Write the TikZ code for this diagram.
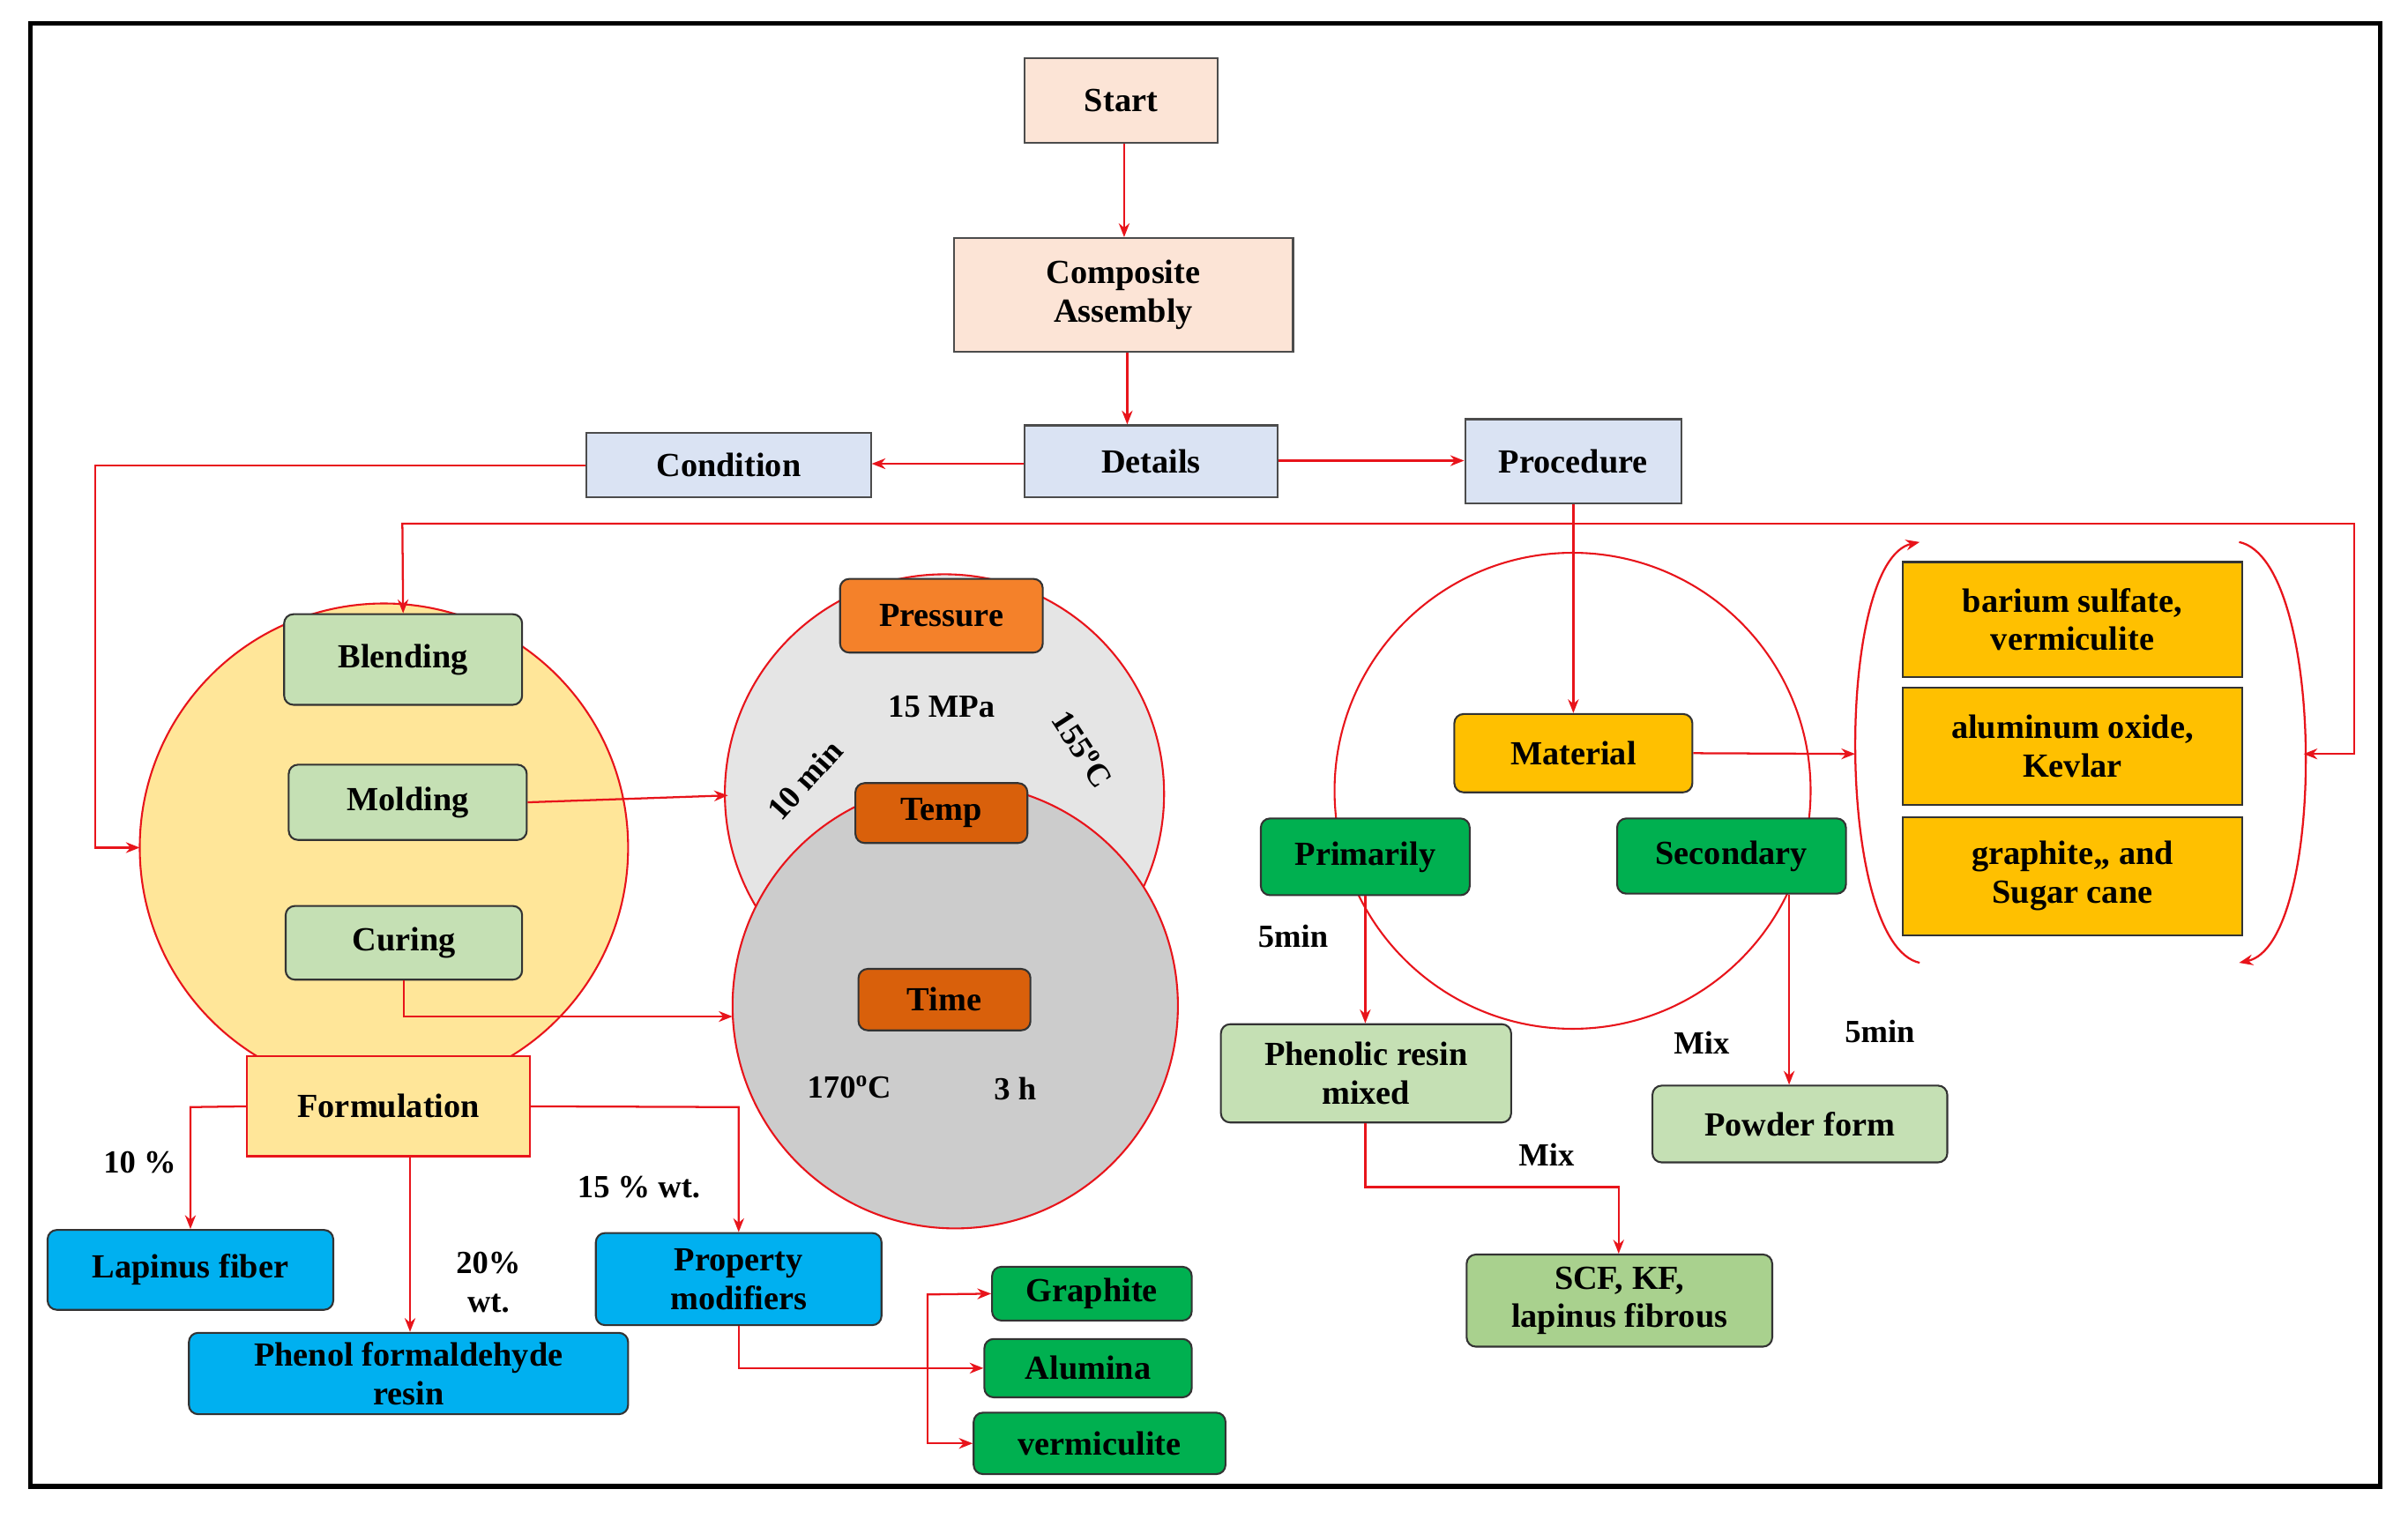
\documentclass[tikz,border=0pt]{standalone}
\usepackage{fontspec}
\setmainfont{Liberation Serif}
\usetikzlibrary{arrows.meta}
\definecolor{peach}{HTML}{FCE4D6}
\definecolor{lblue}{HTML}{DAE3F3}
\definecolor{lgreen}{HTML}{C5E0B4}
\definecolor{mgreen}{HTML}{A9D18E}
\definecolor{dgreen}{HTML}{00B050}
\definecolor{cyanb}{HTML}{00B0F0}
\definecolor{gold}{HTML}{FFC000}
\definecolor{lyel}{HTML}{FFE699}
\definecolor{orA}{HTML}{F4812A}
\definecolor{orB}{HTML}{D9600B}
\definecolor{redl}{HTML}{E8141B}
\begin{document}
\begin{tikzpicture}[x=1pt,y=-1pt,
 every node/.style={font=\fontsize{22}{25}\selectfont\bfseries, align=center},
 sq/.style={draw=black!70, line width=1.2pt, inner sep=0pt},
 rd/.style={draw=black!80, line width=1.2pt, rounded corners=6pt, inner sep=0pt},
 ar/.style={draw=redl, line width=1.3pt, -{Stealth[length=9pt,width=7pt]}},
 ln/.style={draw=redl, line width=1.3pt},
 lab/.style={font=\fontsize{21}{25}\selectfont\bfseries}]
\useasboundingbox (0,0) rectangle (1568,989);
\fill[white] (0,0) rectangle (1568,989);
\draw[line width=3pt] (20,15) rectangle (1550,968);
\newcommand\bx[6]{\node[#1, fill=#2, minimum width=#5-#3, minimum height=#6-#4] at ({(#3+#5)/2},{(#4+#6)/2})}
% circles
\draw[redl, fill=lyel, line width=1.2pt] (250,552) circle (159);
\draw[redl, fill=black!10, line width=1.2pt] (615,517) circle (143);
\draw[redl, fill=black!20, line width=1.2pt] (622,655) circle (145);
\draw[redl, line width=1.2pt] (1024,515) circle (155);
% top
\bx{sq}{peach}{667}{38}{793}{93} (st) {Start};
\bx{sq}{peach}{621}{155}{842}{229} (ca) {Composite\\Assembly};
\bx{sq}{lblue}{667}{277}{832}{324} (de) {Details};
\bx{sq}{lblue}{382}{282}{567}{324} (co) {Condition};
\bx{sq}{lblue}{954}{273}{1095}{328} (pr) {Procedure};
\draw[ar] (st.south -| 732,0) -- (ca.north -| 732,0);
\draw[ar] (ca.south -| 734,0) -- (de.north -| 734,0);
\draw[ar] (de.west |- 0,302) -- (co.east |- 0,302);
\draw[ar] (de.east |- 0,300) -- (pr.west |- 0,300);
% left cluster
\bx{rd}{lgreen}{185}{400}{340}{459} (bl) {Blending};
\bx{rd}{lgreen}{188}{498}{343}{547} (mo) {Molding};
\bx{rd}{lgreen}{186}{590}{340}{638} (cu) {Curing};
\bx{sq,draw=redl}{lyel}{161}{688}{345}{753} (fo) {Formulation};
\coordinate (cl) at (91,552);
\draw[ar] (co.west) -- (62,303) -- (62,552) -- (cl);
\coordinate (pj) at (1024,341);
\draw[ar] (pj) -- (262,341) -- (bl.north);
\coordinate (bk) at (1500,491);
\draw[ar] (pj) -- (1533,341) -- (1533,491) -- (bk);
% pressure circles
\bx{rd}{orA}{547}{377}{679}{425} (pa) {Pressure};
\bx{rd}{orB}{557}{510}{669}{549} (te) {Temp};
\bx{rd}{orB}{559}{631}{671}{671} (ti) {Time};
\node[lab] at (613,460) {15 MPa};
\node[lab, rotate=48] at (524,508) {10 min};
\node[lab, rotate=-57] at (705,488) {155\textsuperscript{o}C};
\node[lab] at (553,708) {170\textsuperscript{o}C};
\node[lab] at (661,709) {3 h};
\coordinate (uc) at (474,518);
\coordinate (lc) at (477,662);
\draw[ar] (mo.east) -- (uc);
\draw[ar] (cu.south) -- (263,662) -- (lc);
% formulation outputs
\bx{rd}{cyanb}{31}{801}{217}{853} (lf) {Lapinus fiber};
\bx{rd}{cyanb}{123}{868}{409}{921} (pf) {Phenol formaldehyde\\resin};
\bx{rd}{cyanb}{388}{803}{574}{863} (pm) {Property\\modifiers};
\draw[ar] (fo.west) -- (124,721) -- (lf.north -| 124,0);
\draw[ar] (fo.south -| 267,0) -- (pf.north -| 267,0);
\draw[ar] (fo.east) -- (481,721) -- (pm.north -| 481,0);
\node[lab] at (91,757) {10 \%};
\node[lab] at (318,835) {20\%\\wt.};
\node[lab] at (416,773) {15 \% wt.};
\bx{rd}{dgreen}{646}{825}{776}{860} (gr) {Graphite};
\bx{rd}{dgreen}{641}{872}{776}{910} (al) {Alumina};
\bx{rd}{dgreen}{634}{920}{798}{960} (ve) {vermiculite};
\draw[ln] (pm.south -| 481,0) -- (481,891) -- (604,891);
\draw[ar] (604,891) -- (al.west);
\draw[ar] (604,891) -- (604,843) -- (gr.west);
\draw[ar] (604,891) -- (604,940) -- (ve.west);
% right cluster
\bx{rd}{gold}{947}{465}{1102}{516} (ma) {Material};
\bx{rd}{dgreen}{821}{533}{957}{583} (pp) {Primarily};
\bx{rd}{dgreen}{1053}{533}{1202}{582} (se) {Secondary};
\draw[ar] (pr.south) -- (ma.north);
\coordinate (bl2) at (1208,491);
\draw[ar] (ma.east) -- (bl2);
\draw[ar] (1250,627) .. controls (1195,615) and (1195,365) .. (1250,353);
\draw[ar] (1458,353) .. controls (1515,365) and (1515,615) .. (1458,627);
\bx{sq,draw=black!80}{gold}{1239}{366}{1460}{441} (b1) {barium sulfate,\\vermiculite};
\bx{sq,draw=black!80}{gold}{1239}{448}{1460}{524} (b2) {aluminum oxide,\\Kevlar};
\bx{sq,draw=black!80}{gold}{1239}{532}{1460}{609} (b3) {graphite,, and\\Sugar cane};
\bx{rd}{lgreen}{795}{667}{984}{731} (ph) {Phenolic resin\\mixed};
\bx{rd}{mgreen}{955}{817}{1154}{877} (sc) {SCF, KF,\\lapinus fibrous};
\bx{rd}{lgreen}{1076}{707}{1268}{757} (pw) {Powder form};
\draw[ar] (pp.south -| 889,0) -- (ph.north -| 889,0);
\draw[ar] (ph.south -| 889,0) -- (889,773) -- (1054,773) -- (sc.north -| 1054,0);
\draw[ar] (se.south -| 1165,0) -- (pw.north -| 1165,0);
\node[lab] at (842,610) {5min};
\node[lab] at (1007,752) {Mix};
\node[lab] at (1108,679) {Mix};
\node[lab] at (1224,672) {5min};
\end{tikzpicture}
\end{document}
